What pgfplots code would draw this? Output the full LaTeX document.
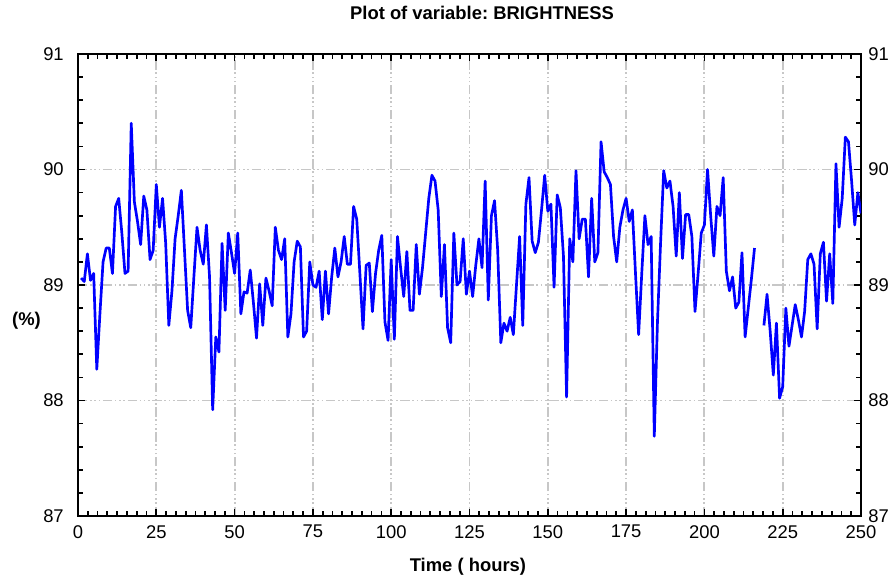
\documentclass[border=0pt]{standalone}
\usepackage{fontspec}
\setmainfont{Liberation Sans}
\usepackage{pgfplots}
\usepackage{pgfplotstable}
\pgfplotsset{compat=1.18}
\newcommand{\chartfont}{\fontsize{13.8}{16}\selectfont}
\frenchspacing

\pgfplotstableread{
t v
1 89.06
2 89.03
3 89.27
4 89.04
5 89.10
6 88.27
7 88.75
8 89.20
9 89.32
10 89.32
11 89.10
12 89.68
13 89.75
14 89.45
15 89.10
16 89.12
17 90.40
18 89.72
19 89.55
20 89.35
21 89.77
22 89.65
23 89.22
24 89.30
25 89.87
26 89.50
27 89.75
28 89.36
29 88.65
30 88.95
31 89.40
32 89.60
33 89.82
34 89.30
35 88.78
36 88.63
37 89.07
38 89.50
39 89.30
40 89.18
41 89.52
42 89.07
43 87.92
44 88.55
45 88.42
46 89.36
47 88.78
48 89.45
49 89.28
50 89.10
51 89.45
52 88.75
53 88.94
54 88.93
55 89.13
56 88.85
57 88.54
58 89.01
59 88.65
60 89.06
61 88.95
62 88.82
63 89.50
64 89.30
65 89.22
66 89.40
67 88.55
68 88.75
69 89.20
70 89.38
71 89.33
72 88.55
73 88.60
74 89.20
75 89.00
76 88.98
77 89.12
78 88.70
79 89.12
80 88.75
81 89.07
82 89.32
83 89.07
84 89.20
85 89.42
86 89.18
87 89.18
88 89.68
89 89.57
90 89.10
91 88.62
92 89.17
93 89.19
94 88.77
95 89.10
96 89.30
97 89.43
98 88.68
99 88.52
100 89.22
101 88.53
102 89.42
103 89.15
104 88.90
105 89.29
106 88.78
107 88.78
108 89.35
109 88.92
110 89.15
111 89.45
112 89.75
113 89.95
114 89.90
115 89.65
116 88.90
117 89.35
118 88.63
119 88.50
120 89.45
121 89.00
122 89.03
123 89.40
124 88.92
125 89.12
126 88.90
127 89.17
128 89.40
129 89.15
130 89.90
131 88.87
132 89.60
133 89.73
134 89.30
135 88.50
136 88.67
137 88.60
138 88.72
139 88.57
140 89.00
141 89.42
142 88.65
143 89.70
144 89.93
145 89.38
146 89.28
147 89.37
148 89.65
149 89.95
150 89.64
151 89.70
152 88.98
153 89.78
154 89.67
155 89.25
156 88.03
157 89.40
158 89.20
159 89.99
160 89.40
161 89.57
162 89.57
163 89.07
164 89.75
165 89.20
166 89.28
167 90.24
168 89.98
169 89.93
170 89.87
171 89.42
172 89.20
173 89.50
174 89.65
175 89.75
176 89.55
177 89.65
178 89.10
179 88.57
180 89.10
181 89.60
182 89.35
183 89.42
184 87.69
185 88.67
186 89.36
187 89.99
188 89.84
189 89.90
190 89.68
191 89.25
192 89.80
193 89.23
194 89.61
195 89.61
196 89.42
197 88.77
198 89.10
199 89.45
200 89.52
201 90.00
202 89.60
203 89.25
204 89.68
205 89.60
206 89.93
207 89.12
208 88.95
209 89.07
210 88.80
211 88.85
212 89.28
213 88.55
214 88.80
215 89.05
216 89.32
217 nan
218 nan
219 88.65
220 88.92
221 88.60
222 88.22
223 88.67
224 88.02
225 88.12
226 88.80
227 88.47
228 88.65
229 88.83
230 88.70
231 88.55
232 88.77
233 89.22
234 89.27
235 89.18
236 88.62
237 89.27
238 89.37
239 88.86
240 89.27
241 88.84
242 90.05
243 89.50
244 89.75
245 90.28
246 90.24
247 89.90
248 89.52
249 89.80
250 89.62
}\brightness

\begin{document}
\begin{tikzpicture}
\path[use as bounding box] (-58.5pt,-45.75pt) rectangle (607.5pt,387pt);
\begin{axis}[
  name=ax,
  scale only axis, width=587.25pt, height=346.5pt,
  xmin=0, xmax=250, ymin=87, ymax=91,
  xtick={0,25,...,250}, ytick={87,88,...,91},
  minor x tick num=7, minor y tick num=4,
  tick align=inside, xtick pos=both, ytick pos=both,
  major tick length=5pt, minor tick length=4pt,
  every tick/.style={black, line width=1.3pt},
  axis line style={line width=2.2pt},
  grid=major,
  major grid style={black!22, line width=1.4pt,
    dash pattern=on 7pt off 2pt on 1.2pt off 2pt on 1.2pt off 2pt on 1.2pt off 2pt},
  /pgf/number format/assume math mode=true,
  tick label style={font=\chartfont},
  xticklabel style={anchor=north, inner sep=0pt, yshift=-6.75pt},
  yticklabel style={anchor=east, inner sep=0pt, xshift=-10.5pt},
  title={Plot of variable: BRIGHTNESS},
  title style={at={(axis description cs:0.516,1.0563)}, anchor=base,
    inner sep=0pt, font=\chartfont\bfseries},
  xlabel={Time ( hours)},
  xlabel style={at={(axis description cs:0.498,-0.1212)}, anchor=base,
    inner sep=0pt, font=\chartfont\bfseries},
  ylabel={(\%)},
  ylabel style={rotate=-90, at={(axis description cs:-0.0658,0.422)},
    anchor=center, inner sep=0pt, font=\chartfont\bfseries},
  unbounded coords=jump,
]
\addplot[blue, line width=2pt, line join=round] table[x=t, y=v] {\brightness};
\end{axis}
\begin{axis}[
  scale only axis, width=587.25pt, height=346.5pt,
  xmin=0, xmax=250, ymin=87, ymax=91,
  hide x axis, axis y line*=right,
  ytick={87,88,...,91}, minor y tick num=0,
  ytick style={draw=none}, y axis line style={draw=none},
  /pgf/number format/assume math mode=true,
  tick label style={font=\chartfont},
  yticklabel style={anchor=west, inner sep=0pt, xshift=5.25pt},
]
\addplot[draw=none] coordinates {(0,87)};
\end{axis}
\end{tikzpicture}
\end{document}
